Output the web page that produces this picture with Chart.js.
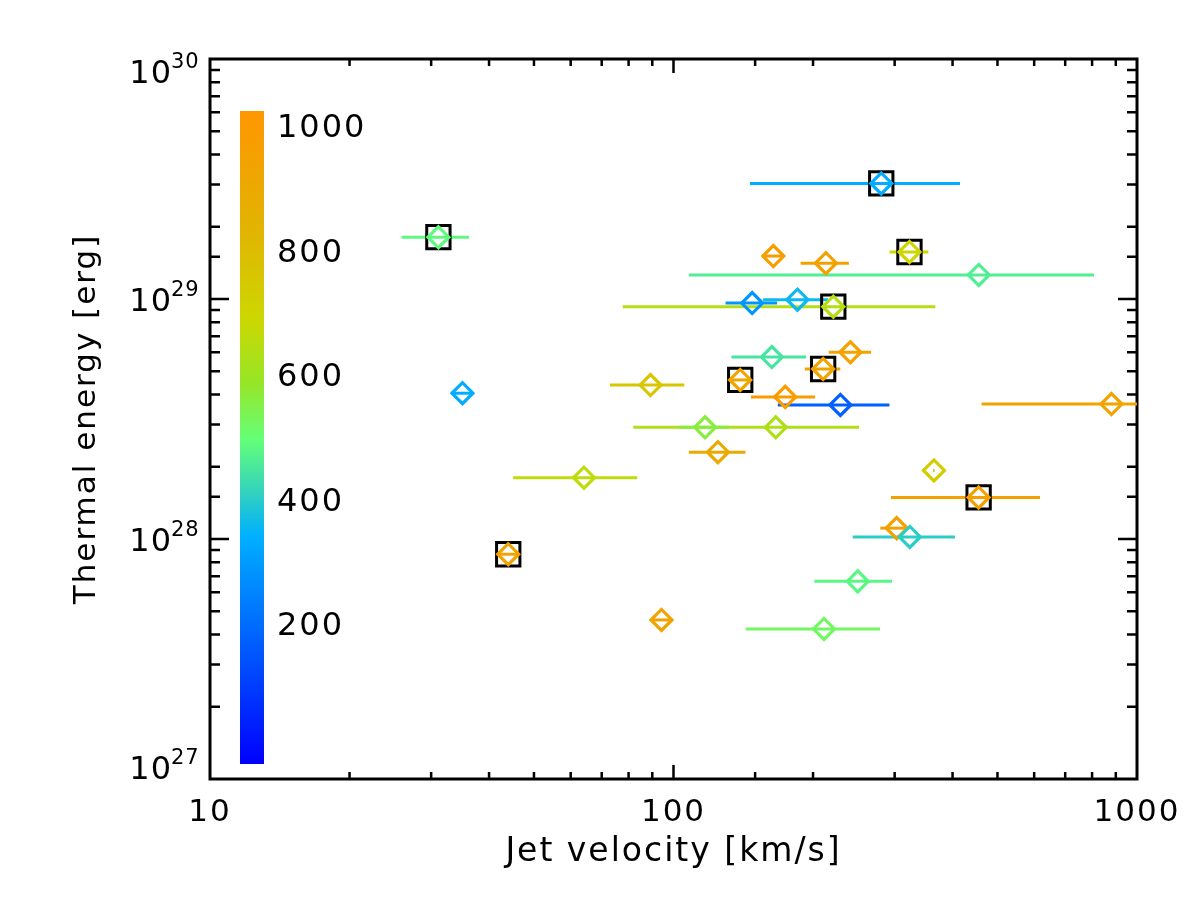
<!DOCTYPE html>
<html>
<head>
<meta charset="utf-8">
<script src="https://cdn.jsdelivr.net/npm/chart.js@4.4.0/dist/chart.umd.min.js"></script>
<style>
html,body{margin:0;padding:0;background:#ffffff;}
#wrap{width:1200px;height:900px;position:relative;}
</style>
</head>
<body>
<div id="wrap"><canvas id="c" width="1200" height="900"></canvas></div>
<script>
// ---------------- data ----------------
const VELOCITY = [31.1, 280.7, 164.2, 213.2, 322.9, 455.7, 147.8, 185.1, 221.2, 163.0,
                  240.8, 210.3, 139.3, 89.2, 174.2, 229.1, 880.6, 117.0, 166.2, 124.7,
                  64.1, 364.7, 455.3, 303.0, 323.5, 44.0, 249.7, 94.2, 211.2, 35.05];
const VEL_LO   = [25.9, 146.2, 156, 188.1, 292.7, 108.0, 129.5, 156.1, 77.7, 133.4,
                  216.2, 192.0, 132, 72.9, 146.9, 167.9, 462.1, 103.0, 81.9, 108.0,
                  45.1, 363, 294.6, 279.4, 243.6, 41.8, 201.3, 89.5, 143.3, 33.3];
const VEL_HI   = [36.2, 415.1, 172, 239.0, 354.6, 807.6, 167.3, 215.4, 367.2, 193.1,
                  266.8, 229.1, 147, 105.5, 202.0, 292.3, 1200, 131.8, 251.3, 143.0,
                  83.5, 366, 617.6, 322.3, 404.8, 46.4, 296.1, 99, 279.0, 36.9];
const ENERGY   = [1.81e29, 3.03e29, 1.51e29, 1.41e29, 1.57e29, 1.26e29, 9.62e28, 9.93e28, 9.29e28, 5.73e28,
                  6.00e28, 5.11e28, 4.60e28, 4.38e28, 3.91e28, 3.62e28, 3.65e28, 2.92e28, 2.92e28, 2.30e28,
                  1.80e28, 1.93e28, 1.49e28, 1.11e28, 1.02e28, 8.64e27, 6.66e27, 4.60e27, 4.22e27, 4.05e28];
const COLOR_VALUE = [485, 335, 975, 955, 700, 462, 286, 358, 643, 445,
                     945, 925, 925, 760, 985, 170, 935, 560, 633, 895,
                     662, 735, 950, 955, 400, 940, 480, 940, 520, 335];
const BOXED    = [1, 1, 0, 0, 1, 0, 0, 0, 1, 0,
                  0, 1, 1, 0, 0, 0, 0, 0, 0, 0,
                  0, 0, 1, 0, 0, 1, 0, 0, 0, 0];

const X_TICK_LABELS = ['10', '100', '1000'];
const Y_TICK_EXP = [27, 28, 29, 30];
const CB_TICKS = [200, 400, 600, 800, 1000];
const CB_RANGE = [-26, 1023];
const CMAP_STOPS = [
  [-26, [0, 0, 255]], [200, [0, 110, 255]], [340, [0, 175, 255]], [410, [50, 210, 190]],
  [495, [100, 255, 120]], [585, [150, 230, 40]], [690, [205, 215, 0]], [830, [225, 180, 0]],
  [1023, [255, 150, 0]]
];
const X_TITLE = 'Jet velocity [km/s]';
const Y_TITLE = 'Thermal energy [erg]';

// ---------------- helpers ----------------
const FONT = "'DejaVu Sans', 'Liberation Sans', sans-serif";
function cmap(v) {
  if (v <= CMAP_STOPS[0][0]) return 'rgb(' + CMAP_STOPS[0][1].join(',') + ')';
  for (let i = 1; i < CMAP_STOPS.length; i++) {
    const [v1, c1] = CMAP_STOPS[i];
    const [v0, c0] = CMAP_STOPS[i - 1];
    if (v <= v1) {
      const t = (v - v0) / (v1 - v0);
      const c = c0.map((a, k) => Math.round(a + (c1[k] - a) * t));
      return 'rgb(' + c.join(',') + ')';
    }
  }
  return 'rgb(' + CMAP_STOPS[CMAP_STOPS.length - 1][1].join(',') + ')';
}
const isMajor = v => Math.abs(Math.log10(v) - Math.round(Math.log10(v))) < 1e-6;

const colors = COLOR_VALUE.map(cmap);
const points = VELOCITY.map((v, i) => ({x: v, y: ENERGY[i]}));
const boxPoints = points.filter((p, i) => BOXED[i]);

const errSets = VELOCITY.map((v, i) => ({
  label: 'err' + i,
  data: [{x: VEL_LO[i], y: ENERGY[i]}, {x: VEL_HI[i], y: ENERGY[i]}],
  showLine: true,
  borderColor: colors[i],
  backgroundColor: colors[i],
  borderWidth: 3,
  pointRadius: 0,
  pointHoverRadius: 0,
  fill: false,
  clip: 0,
  order: 3
}));

// ---------------- plugin: frame, inward ticks, y labels, colour bar ----------------
const decor = {
  id: 'decor',
  beforeDraw(chart) {
    chart.ctx.letterSpacing = '2px';
  },
  beforeDatasetsDraw(chart) {
    const ctx = chart.ctx;
    const {left, right, top, bottom} = chart.chartArea;
    const xs = chart.scales.x, ys = chart.scales.y;
    ctx.save();
    ctx.strokeStyle = '#000';
    ctx.lineCap = 'butt';
    // ticks
    ctx.lineWidth = 2.5;
    ctx.beginPath();
    xs.ticks.forEach(t => {
      const px = xs.getPixelForValue(t.value);
      if (px <= left + 1 || px >= right - 1) return;
      const len = isMajor(t.value) ? 14 : 7;
      ctx.moveTo(px, bottom); ctx.lineTo(px, bottom - len);
      ctx.moveTo(px, top); ctx.lineTo(px, top + len);
    });
    ys.ticks.forEach(t => {
      const py = ys.getPixelForValue(t.value);
      if (py <= top + 1 || py >= bottom - 1) return;
      const len = isMajor(t.value) ? 19 : 10;
      ctx.moveTo(left, py); ctx.lineTo(left + len, py);
      ctx.moveTo(right, py); ctx.lineTo(right - len, py);
    });
    ctx.stroke();
    // frame
    ctx.lineWidth = 3;
    ctx.strokeRect(left, top, right - left, bottom - top);

    // y tick labels 10^n
    ctx.fillStyle = '#000';
    ctx.letterSpacing = '1px';
    Y_TICK_EXP.forEach(e => {
      let cy = ys.getPixelForValue(Math.pow(10, e));
      cy = Math.min(Math.max(cy, top + 12), bottom - 12);
      const base = cy + 11.7;
      ctx.font = '32px ' + FONT;
      ctx.textAlign = 'right';
      ctx.textBaseline = 'alphabetic';
      ctx.fillText('10', left - 38, base);
      ctx.font = '21px ' + FONT;
      ctx.textAlign = 'left';
      ctx.fillText(String(e), left - 39, base - 14.7);
    });

    // colour bar
    const cbL = left + 30, cbW = 24, cbT = top + 52, cbB = bottom - 15;
    const span = CB_RANGE[1] - CB_RANGE[0];
    const g = ctx.createLinearGradient(0, cbT, 0, cbB);
    CMAP_STOPS.forEach(([v, c]) => {
      g.addColorStop((CB_RANGE[1] - v) / span, 'rgb(' + c.join(',') + ')');
    });
    ctx.fillStyle = g;
    ctx.fillRect(cbL, cbT, cbW, cbB - cbT);
    ctx.fillStyle = '#000';
    ctx.font = '32px ' + FONT;
    ctx.textAlign = 'left';
    ctx.letterSpacing = '2px';
    CB_TICKS.forEach(v => {
      const cy = cbT + (CB_RANGE[1] - v) / span * (cbB - cbT);
      ctx.fillText(String(v), cbL + 37, cy + 11.7);
    });
    ctx.restore();
  }
};

// ---------------- chart ----------------
new Chart(document.getElementById('c').getContext('2d'), {
  type: 'scatter',
  data: {
    datasets: [
      {
        label: 'Jets',
        data: points,
        pointStyle: 'rectRot',
        pointRadius: 10.5,
        pointHoverRadius: 10.5,
        pointBorderWidth: 3.2,
        borderWidth: 3.2,
        pointBorderColor: colors,
        borderColor: colors,
        pointBackgroundColor: 'rgba(0,0,0,0)',
        backgroundColor: 'rgba(0,0,0,0)',
        clip: false,
        order: 0
      },
      {
        label: 'Selected',
        data: boxPoints,
        pointStyle: 'rect',
        pointRadius: 16.5,
        pointHoverRadius: 16.5,
        pointBorderWidth: 3,
        borderWidth: 3,
        pointBorderColor: '#000',
        borderColor: '#000',
        pointBackgroundColor: 'rgba(0,0,0,0)',
        backgroundColor: 'rgba(0,0,0,0)',
        clip: false,
        order: 1
      },
      ...errSets
    ]
  },
  options: {
    responsive: false,
    devicePixelRatio: 1,
    animation: false,
    events: [],
    layout: {padding: {left: 0, right: 63, top: 59, bottom: 0}},
    plugins: {legend: {display: false}, tooltip: {enabled: false}, title: {display: false}},
    scales: {
      x: {
        type: 'logarithmic',
        min: 10,
        max: 1000,
        afterFit: s => { s.height = 121; },
        grid: {display: false, drawTicks: false},
        border: {display: false},
        ticks: {
          autoSkip: false,
          maxRotation: 0,
          padding: 15,
          color: '#000',
          font: {family: FONT, size: 31},
          callback: (v) => {
            if (!isMajor(v)) return '';
            const idx = Math.round(Math.log10(v)) - 1;
            return X_TICK_LABELS[idx] !== undefined ? X_TICK_LABELS[idx] : '';
          }
        },
        title: {
          display: true,
          text: X_TITLE,
          color: '#000',
          font: {family: FONT, size: 33},
          padding: {top: 0, bottom: 28}
        }
      },
      y: {
        type: 'logarithmic',
        min: 1e27,
        max: 1e30,
        afterFit: s => { s.width = 210; },
        grid: {display: false, drawTicks: false},
        border: {display: false},
        ticks: {display: false, autoSkip: false},
        title: {
          display: true,
          text: Y_TITLE,
          color: '#000',
          font: {family: FONT, size: 31},
          padding: {top: 68, bottom: 0}
        }
      }
    }
  },
  plugins: [decor]
});
</script>
</body>
</html>
